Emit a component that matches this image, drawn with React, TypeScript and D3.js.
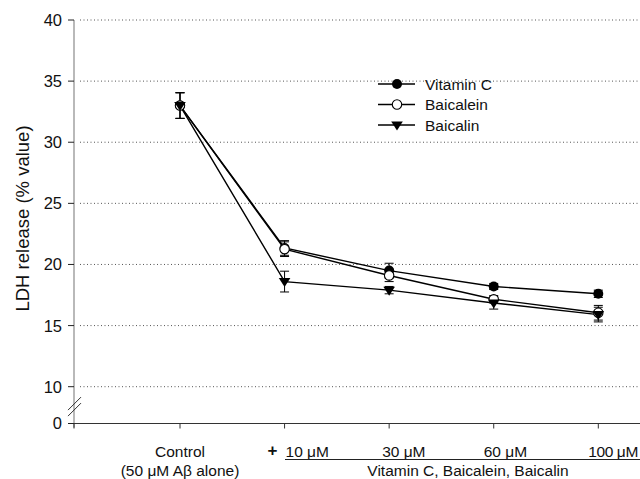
import React from "react";
import * as d3 from "d3";

const categories = ["Control", "10 μM", "30 μM", "60 μM", "100 μM"];
const yTicks = [0, 10, 15, 20, 25, 30, 35, 40];
const gridTicks = [10, 15, 20, 25, 30, 35, 40];

const vitaminC = [33.0, 21.35, 19.5, 18.2, 17.6];
const vitaminCErr = [1.05, 0.6, 0.6, 0.25, 0.3];
const baicalein = [33.0, 21.25, 19.1, 17.15, 16.05];
const baicaleinErr = [1.05, 0.6, 0.5, 0.3, 0.6];
const baicalin = [33.0, 18.6, 17.9, 16.85, 15.9];
const baicalinErr = [1.05, 0.85, 0.3, 0.5, 0.6];

const seriesNames = ["Vitamin C", "Baicalein", "Baicalin"];

const W = 640;
const H = 479;
const FONT = "'Liberation Sans', Arial, sans-serif";

export default function App() {
  const x = d3.scaleLinear().domain([0, categories.length - 1]).range([180, 598.3]);
  const y = d3.scaleLinear().domain([0, 10, 40]).range([423.5, 386.7, 20]);
  const xLeft = 74;
  const xRight = 640;

  const series = [
    { name: seriesNames[0], values: vitaminC, err: vitaminCErr, marker: "filled" },
    { name: seriesNames[1], values: baicalein, err: baicaleinErr, marker: "open" },
    { name: seriesNames[2], values: baicalin, err: baicalinErr, marker: "tri" },
  ];

  const line = d3
    .line<number>()
    .x((_, i) => x(i))
    .y((d) => y(d));

  const marker = (type: string, cx: number, cy: number, key: string) => {
    if (type === "filled") return <circle key={key} cx={cx} cy={cy} r={5} fill="#000" />;
    if (type === "open")
      return <circle key={key} cx={cx} cy={cy} r={4.7} fill="#fff" stroke="#000" strokeWidth={1.1} />;
    const s = 5.8;
    return (
      <path
        key={key}
        d={`M${cx - s},${cy - s * 0.6} L${cx + s},${cy - s * 0.6} L${cx},${cy + s * 0.95} Z`}
        fill="#000"
      />
    );
  };

  const labelOffsets = [0, 1, -7, -10, -10];
  const breakY = y(5);

  return (
    <svg
      width={W}
      height={H}
      style={{ position: "absolute", left: 0, top: 0, background: "#fff" }}
      fontFamily={FONT}
    >
      <rect width={W} height={H} fill="#fff" />
      {/* grid */}
      {gridTicks.map((t) => (
        <line
          key={"g" + t}
          x1={80}
          x2={xRight}
          y1={y(t)}
          y2={y(t)}
          stroke="#555"
          strokeWidth={1}
          strokeDasharray="1,2.5"
        />
      ))}
      {/* y axis */}
      <line x1={xLeft} x2={xLeft} y1={y(40)} y2={y(0) + 4} stroke="#8a8a8a" strokeWidth={1.2} />
      {yTicks.map((t) => (
        <g key={"yt" + t}>
          <line x1={xLeft - 6} x2={xLeft} y1={y(t)} y2={y(t)} stroke="#222" strokeWidth={1} />
          <text x={62} y={y(t)} dy="0.36em" textAnchor="end" fontSize={16.5} fill="#111">
            {t}
          </text>
        </g>
      ))}
      {/* axis break */}
      <line x1={68} y1={breakY + 5} x2={81} y2={breakY - 8} stroke="#333" strokeWidth={1} />
      <line x1={68} y1={breakY + 11} x2={81} y2={breakY - 2} stroke="#333" strokeWidth={1} />
      {/* x axis */}
      <line x1={xLeft} x2={xRight} y1={y(0)} y2={y(0)} stroke="#333" strokeWidth={1.2} />
      <line x1={xLeft} x2={xLeft} y1={y(0)} y2={y(0) + 5} stroke="#333" strokeWidth={1} />
      {categories.map((c, i) => (
        <line key={"xt" + i} x1={x(i)} x2={x(i)} y1={y(0)} y2={y(0) + 5} stroke="#333" strokeWidth={1} />
      ))}
      {/* x labels */}
      <text x={x(0)} y={457} textAnchor="middle" fontSize={15.5} fill="#111">
        {categories[0]}
      </text>
      <text x={x(0)} y={476} textAnchor="middle" fontSize={15.5} fill="#111">
        (50 μM Aβ alone)
      </text>
      <text x={272.5} y={456} textAnchor="middle" fontSize={17} fontWeight="bold" fill="#111">
        +
      </text>
      {categories.slice(1).map((c, j) => (
        <text
          key={"xl" + j}
          x={x(j + 1) + labelOffsets[j + 1]}
          y={457}
          fontSize={15.5}
          fill="#111"
          textLength={j === 3 ? 50 : undefined}
        >
          {c}
        </text>
      ))}
      <line x1={285} x2={xRight} y1={459.5} y2={459.5} stroke="#222" strokeWidth={1} />
      <text x={468} y={476} textAnchor="middle" fontSize={15.5} fill="#111">
        Vitamin C, Baicalein, Baicalin
      </text>
      {/* y title */}
      <text
        transform={`translate(23,218.5) rotate(-90)`}
        textAnchor="middle"
        dy="0.35em"
        fontSize={18.5}
        fill="#111"
      >
        LDH release (% value)
      </text>
      {/* series */}
      {series.map((s) => (
        <path key={"l" + s.name} d={line(s.values) || ""} fill="none" stroke="#000" strokeWidth={1.4} />
      ))}
      {series.map((s) =>
        s.values.map((v, i) => (
          <g key={"e" + s.name + i} stroke="#000" strokeWidth={1}>
            <line x1={x(i)} x2={x(i)} y1={y(v + s.err[i])} y2={y(v - s.err[i])} />
            <line x1={x(i) - 4.5} x2={x(i) + 4.5} y1={y(v + s.err[i])} y2={y(v + s.err[i])} />
            <line x1={x(i) - 4.5} x2={x(i) + 4.5} y1={y(v - s.err[i])} y2={y(v - s.err[i])} />
          </g>
        ))
      )}
      {series.map((s) => s.values.map((v, i) => marker(s.marker, x(i), y(v), "m" + s.name + i)))}
      {/* legend */}
      {series.map((s, k) => {
        const ly = 84 + k * 20.5;
        return (
          <g key={"lg" + s.name}>
            <line x1={378} x2={415} y1={ly} y2={ly} stroke="#000" strokeWidth={1.4} />
            {marker(s.marker, 397, ly, "lm" + k)}
            <text x={425} y={ly} dy="0.36em" fontSize={15.5} fill="#111">
              {s.name}
            </text>
          </g>
        );
      })}
    </svg>
  );
}
